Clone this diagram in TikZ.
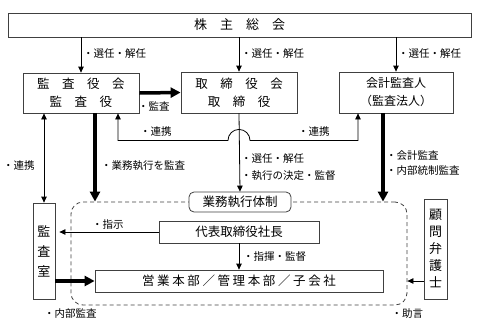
\documentclass[tikz,border=0pt]{standalone}
\usepackage{fontspec}
\setmainfont{Noto Sans CJK JP}
\newfontfamily\widejp[LetterSpace=21]{Noto Sans CJK JP}
\usetikzlibrary{arrows.meta,positioning}

\begin{document}
\begin{tikzpicture}[x=1pt, y=-1pt,
  every node/.style={inner sep=0pt},
  box/.style={draw=black!75, line width=0.8pt, align=center, font=\fontsize{12.5}{18}\selectfont},
  vbox/.style={box, minimum width=22pt, font=\fontsize{13}{20}\selectfont},
  note/.style={anchor=west, font=\fontsize{10.5}{12}\selectfont},
  arrow/.style={-{Triangle[length=6pt,width=5.5pt]}, line width=0.8pt},
  twoway/.style={{Triangle[length=6pt,width=5.5pt]}-{Triangle[length=6pt,width=5.5pt]}, line width=0.8pt},
  bigarrow/.style={-{Triangle[length=10pt,width=10pt]}, line width=3.5pt}
]
\useasboundingbox (0,0) rectangle (480,330);

\node[box, minimum width=463pt, minimum height=24pt, font=\fontsize{13}{16}\selectfont] (soukai) at (239.5,25) {株　主　総　会};
\node[box, minimum width=116pt, minimum height=40pt] (kansayaku) at (81,93) {監　査　役　会\\監　査　役};
\node[box, minimum width=116pt, minimum height=41pt] (torishimari) at (239,92.5) {取　締　役　会\\取　締　役};
\node[box, minimum width=114pt, minimum height=41pt, font=\fontsize{12}{18}\selectfont] (kaikei) at (396,92.5) {会計監査人\\（監査法人）};
\node[draw=black!75, line width=0.8pt, dash pattern=on 4pt off 3pt, rounded corners=12pt,
  minimum width=336pt, minimum height=103pt] (gyomu) at (239,253.5) {};
\node[box, fill=white, rounded corners=5pt, minimum width=102pt, minimum height=20pt] (taisei) at (240,202) {業務執行体制};
\node[box, minimum width=160pt, minimum height=22pt] (shacho) at (239,232) {代表取締役社長};
\node[box, minimum width=288pt, minimum height=22pt, font=\fontsize{12.5}{15}\widejp] (honbu) at (239,281) {営業本部／管理本部／子会社};
\node[vbox, minimum height=96pt] (shitsu) at (44,251) {監\\査\\室};
\node[vbox, minimum width=23pt, minimum height=100pt, font=\fontsize{13}{17}\selectfont] (komon) at (435.5,249) {顧\\問\\弁\\護\\士};

% points off the middle of the boxes
\coordinate (kb) at ([xshift=14pt]kansayaku.south);
\coordinate (kl) at ([xshift=37pt]kansayaku.south);
\coordinate (ab) at ([xshift=-13pt]kaikei.south);
\coordinate (al) at ([xshift=-38pt]kaikei.south);
\coordinate (cross) at ([yshift=-27pt]torishimari.south);

% 株主総会から
\draw[arrow] (soukai.south -| kansayaku.north) -- (kansayaku.north);
\draw[arrow] (soukai.south -| torishimari.north) -- (torishimari.north);
\draw[arrow] (soukai.south -| kaikei.north) -- (kaikei.north);
\node[note] (sn1) at (83,54) {・選任・解任};
\node[note] (sn2) at (241,54) {・選任・解任};
\node[note] (sn3) at (398,54) {・選任・解任};

\draw[bigarrow] (kansayaku.east) -- (torishimari.west);
\node[note] (kansa) at (138,106) {・監査};

% 連携
\draw[twoway] (kl) -- (kl |- cross) -- ([xshift=-11pt]cross) arc[start angle=180, end angle=0, radius=11pt] -- (al |- cross) -- (al);
\node[note] (renkei1) at (140,132) {・連携};
\node[note] (renkei2) at (298,132) {・連携};
\draw[twoway] (shitsu.north) -- (shitsu.north |- kansayaku.south);
\node[note] (renkei3) at (3,166) {・連携};

\draw[arrow] (torishimari.south) -- (taisei.north);
\node[note] (sn4) at (241,159) {・選任・解任};
\node[note] (kettei) at (241,176) {・執行の決定・監督};

\draw[bigarrow] (kb) -- (kb |- gyomu.north);
\node[note] (gkansa) at (101,166) {・業務執行を監査};
\draw[bigarrow] (ab) -- (ab |- gyomu.north);
\node[note] (kaikeik) at (386,156) {・会計監査};
\node[note] (naibu) at (386,171) {・内部統制監査};

% 業務執行体制の中
\draw[arrow, shorten >=4pt] (shacho.west) -- (shacho.west -| shitsu.east);
\node[note] (shiji) at (92,225) {・指示};
\draw[arrow] (shacho.south) -- (honbu.north);
\node[note] (shiki) at (243,257) {・指揮・監督};
\draw[bigarrow] (shitsu.east |- honbu.west) -- (honbu.west);
\node[note] (nkansa) at (44,314) {・内部監査};
\draw[arrow] (komon.west |- honbu) -- (gyomu.east |- honbu);
\node[note] (jogen) at (391.5,314) {・助言};
\end{tikzpicture}
\end{document}
